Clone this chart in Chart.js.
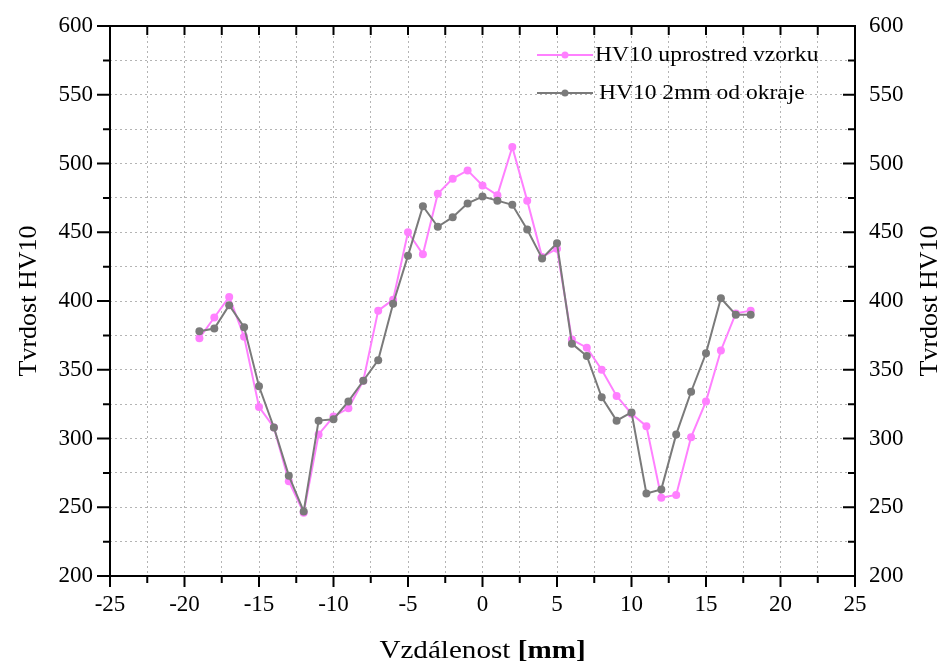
<!DOCTYPE html>
<html>
<head>
<meta charset="utf-8">
<script src="https://cdn.jsdelivr.net/npm/chart.js@4"></script>
<style>
  html, body { margin: 0; background: #fff; }
  #wrap { position: relative; width: 946px; height: 668px; }
</style>
</head>
<body>
<div id="wrap"><canvas id="chart"></canvas></div>
<script>
// values
const distance = [-19, -18, -17, -16, -15, -14, -13, -12, -11, -10, -9, -8, -7, -6, -5, -4, -3, -2, -1,
  0, 1, 2, 3, 4, 5, 6, 7, 8, 9, 10, 11, 12, 13, 14, 15, 16, 17, 18];
const hvCenter = [373, 388, 403, 374, 323, 308, 269, 246, 303, 316, 322, 342, 393, 401, 450, 434, 478, 489, 495,
  484, 477, 512, 473, 432, 438, 372, 366, 350, 331, 318, 309, 257, 259, 301, 327, 364, 391, 393];
const hvEdge = [378, 380, 397, 381, 338, 308, 273, 247, 313, 314, 327, 342, 357, 398, 433, 469, 454, 461, 471,
  476, 473, 470, 452, 431, 442, 369, 360, 330, 313, 319, 260, 263, 303, 334, 362, 402, 390, 390];

const seriesNames = ['HV10 uprostred vzorku', 'HV10 2mm od okraje'];
const yTitle = 'Tvrdost HV10';
const xTickLabels = [-25, -20, -15, -10, -5, 0, 5, 10, 15, 20, 25];
const yTickLabels = [200, 250, 300, 350, 400, 450, 500, 550, 600];

const pink = '#ff80ff';
const grey = '#7a7a7a';
const serif = '"Liberation Serif", "Times New Roman", serif';
const stretch = 1.12; // the original text is a little wide

const gridStyle = {
  color: '#b4b4b4',
  lineWidth: 1,
  drawTicks: false
};

function wideText(ctx, text, x, y) {
  ctx.save();
  ctx.translate(x, y);
  ctx.scale(stretch, 1);
  ctx.fillText(text, 0, 0);
  ctx.restore();
}

// keep the plot box where the original has it
function fixY(width) {
  return scale => {
    scale.width = width;
    scale.paddingTop = 0;
    scale.paddingBottom = 0;
  };
}

// frame, tick marks, titles and legend
const decor = {
  id: 'decor',
  afterDraw(chart) {
    const { ctx, chartArea: a, scales } = chart;
    const xs = scales.x, ys = scales.y;
    ctx.save();
    ctx.strokeStyle = '#000';
    ctx.lineWidth = 2;
    ctx.strokeRect(a.left, a.top, a.right - a.left, a.bottom - a.top);

    ctx.beginPath();
    for (let v = -25; v <= 25; v += 2.5) {
      const px = xs.getPixelForValue(v);
      const major = v % 5 === 0;
      ctx.moveTo(px, a.bottom);
      ctx.lineTo(px, a.bottom + (major ? 11 : 7));
      ctx.moveTo(px, a.top);
      ctx.lineTo(px, a.top + 9);
    }
    for (let v = 200; v <= 600; v += 25) {
      const py = ys.getPixelForValue(v);
      const major = v % 50 === 0;
      ctx.moveTo(a.left, py);
      ctx.lineTo(a.left - (major ? 13 : 7), py);
      ctx.moveTo(a.right, py);
      ctx.lineTo(a.right - (major ? 12 : 7), py);
    }
    ctx.stroke();

    ctx.fillStyle = '#000';
    ctx.textBaseline = 'middle';
    ctx.textAlign = 'left';

    // x title with bold unit
    const normal = '26px ' + serif, bold = 'bold 26px ' + serif;
    const part1 = 'Vzdálenost ', part2 = '[mm]';
    ctx.font = normal;
    const w1 = ctx.measureText(part1).width * stretch;
    ctx.font = bold;
    const w2 = ctx.measureText(part2).width * stretch;
    const startX = (a.left + a.right) / 2 - (w1 + w2) / 2;
    ctx.font = normal;
    wideText(ctx, part1, startX, 651);
    ctx.font = bold;
    wideText(ctx, part2, startX + w1, 651);

    // right title, read bottom to top like the left one
    ctx.font = normal;
    ctx.save();
    ctx.translate(930, (a.top + a.bottom) / 2);
    ctx.rotate(-Math.PI / 2);
    ctx.textAlign = 'center';
    ctx.fillText(yTitle, 0, 0);
    ctx.restore();

    // legend
    ctx.font = '21px ' + serif;
    chart.data.datasets.forEach((ds, i) => {
      const y = 55 + i * 38;
      ctx.strokeStyle = ds.borderColor;
      ctx.lineWidth = 2;
      ctx.beginPath();
      ctx.moveTo(537, y);
      ctx.lineTo(593, y);
      ctx.stroke();
      ctx.fillStyle = ds.borderColor;
      ctx.beginPath();
      ctx.arc(565, y, 3.5, 0, Math.PI * 2);
      ctx.fill();
      ctx.fillStyle = '#000';
      wideText(ctx, ds.label, 595 + i * 4, y);
    });
    ctx.restore();
  }
};

const tickFont = { family: serif, size: 23 };

new Chart(document.getElementById('chart'), {
  type: 'line',
  data: {
    datasets: [
      {
        label: seriesNames[0],
        data: distance.map((d, i) => ({ x: d, y: hvCenter[i] })),
        borderColor: pink,
        backgroundColor: pink,
        borderWidth: 2,
        pointRadius: 4,
        pointBorderWidth: 0,
        tension: 0,
        order: 1
      },
      {
        label: seriesNames[1],
        data: distance.map((d, i) => ({ x: d, y: hvEdge[i] })),
        borderColor: grey,
        backgroundColor: grey,
        borderWidth: 2,
        pointRadius: 4,
        pointBorderWidth: 0,
        tension: 0,
        order: 0
      }
    ]
  },
  options: {
    responsive: true,
    maintainAspectRatio: false,
    animation: false,
    layout: { padding: { top: 26, left: 0, right: 0, bottom: 0 } },
    plugins: {
      legend: { display: false },
      tooltip: { enabled: false }
    },
    scales: {
      x: {
        type: 'linear',
        min: -25,
        max: 25,
        grid: gridStyle,
        border: { display: false, dash: [2, 3] },
        ticks: {
          stepSize: 2.5,
          autoSkip: false,
          maxRotation: 0,
          padding: 15,
          color: '#000',
          font: tickFont,
          callback: v => (xTickLabels.includes(v) ? String(v) : '')
        },
        afterFit(scale) { scale.height = 92; }
      },
      y: {
        min: 200,
        max: 600,
        grid: gridStyle,
        border: { display: false, dash: [2, 3] },
        ticks: {
          stepSize: 25,
          autoSkip: false,
          padding: 17,
          color: '#000',
          font: tickFont,
          callback: v => (yTickLabels.includes(v) ? String(v) : '')
        },
        title: {
          display: true,
          text: yTitle,
          color: '#000',
          font: { family: serif, size: 26 },
          padding: { top: 14, bottom: 0 }
        },
        afterFit: fixY(110)
      },
      y2: {
        position: 'right',
        min: 200,
        max: 600,
        grid: { drawOnChartArea: false, drawTicks: false },
        border: { display: false },
        ticks: {
          stepSize: 25,
          autoSkip: false,
          padding: 14,
          color: '#000',
          font: tickFont,
          callback: v => (yTickLabels.includes(v) ? String(v) : '')
        },
        afterFit: fixY(91)
      }
    }
  },
  plugins: [decor]
});
</script>
</body>
</html>
